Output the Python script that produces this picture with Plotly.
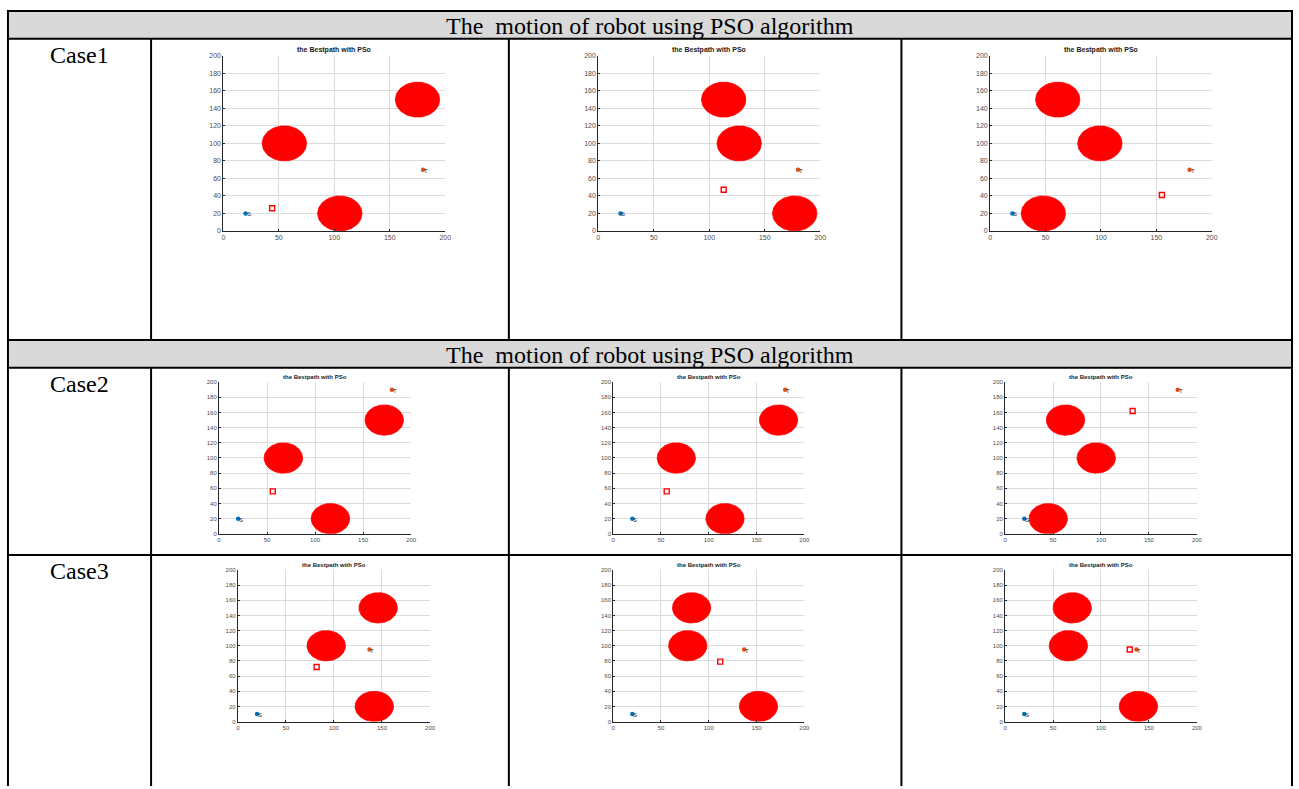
import numpy as np
import plotly.graph_objects as go

W, H = 1299, 789

case_labels = ["Case1", "Case2", "Case3"]
header_text = "The \u00a0motion of robot using PSO algorithm"
panel_title = "the Bestpath with PSo"
x_ticks = [0, 50, 100, 150, 200]
y_ticks = [0, 20, 40, 60, 80, 100, 120, 140, 160, 180, 200]

# obstacle centres (one list per panel, rows = cases), radius in map units
obs_x = [
    [[55, 105, 175], [113, 127, 177], [61, 99, 48]],
    [[67, 116, 172], [66, 117, 173], [63, 95, 45]],
    [[92, 146, 142], [82, 78, 152], [70, 66, 139]],
]
obs_y = [
    [[100, 20, 150], [150, 100, 20], [150, 100, 20]],
    [[100, 20, 150], [100, 20, 150], [150, 100, 20]],
    [[100, 150, 20], [150, 100, 20], [150, 100, 20]],
]
obs_r = 20

# start / target points per case
start_x = [20, 20, 20]
start_y = [20, 20, 10]
target_x = [180, 180, 137]
target_y = [70, 190, 95]

# robot position per panel
robot_x = [[44, 113, 155], [56, 56, 133], [82, 112, 130]]
robot_y = [[26, 47, 41], [56, 56, 162], [72, 79, 95]]

# ---- page layout (pixels) ----
row_y = [(52.3, 229.0), (381.5, 534.6), (571.0, 724.0)]
col_x = [
    [(222.7, 446.0), (600.0, 823.3), (994.3, 1217.3)],
    [(218.3, 411.7), (615.0, 807.3), (1009.3, 1202.3)],
    [(237.3, 430.7), (615.0, 807.3), (1009.3, 1202.3)],
]
tick_size = [7, 6, 6]


def px(x):
    return x / W


def py(y):
    return 1 - y / H


fig = go.Figure()
annotations = []
shapes = []
theta = np.linspace(0, 2 * np.pi, 90)

n = 0
for r in range(3):
    for c in range(3):
        n += 1
        xa = "x" if n == 1 else f"x{n}"
        ya = "y" if n == 1 else f"y{n}"
        # obstacles
        for cx, cy in zip(obs_x[r][c], obs_y[r][c]):
            fig.add_trace(go.Scatter(
                x=cx + obs_r * np.cos(theta), y=cy + obs_r * np.sin(theta),
                mode="lines", fill="toself", fillcolor="#ff0000",
                line=dict(color="#ff0000", width=0.8),
                xaxis=xa, yaxis=ya, hoverinfo="skip"))
        # start
        fig.add_trace(go.Scatter(
            x=[start_x[r]], y=[start_y[r]], mode="markers",
            marker=dict(symbol="circle", size=4.5, color="#0072BD"),
            xaxis=xa, yaxis=ya))
        # target
        fig.add_trace(go.Scatter(
            x=[target_x[r]], y=[target_y[r]], mode="markers",
            marker=dict(symbol="circle", size=4.5, color="#D95319"),
            xaxis=xa, yaxis=ya))
        # robot
        fig.add_trace(go.Scatter(
            x=[robot_x[r][c]], y=[robot_y[r][c]], mode="markers",
            marker=dict(symbol="square-open", size=5, color="#ff0000",
                        line=dict(width=1.4, color="#ff0000")),
            xaxis=xa, yaxis=ya))

        x0, x1 = col_x[r][c]
        y0, y1 = row_y[r]
        axcommon = dict(
            range=[0, 200], showgrid=True, gridcolor="#dcdcdc", gridwidth=1,
            zeroline=False, showline=True, linecolor="#262626", linewidth=1,
            ticks="inside", ticklen=2, tickcolor="#262626",
            tickfont=dict(family="Liberation Sans", size=tick_size[r], color="#4d4d4d"),
        )
        fig.layout[("xaxis" if n == 1 else f"xaxis{n}")] = dict(
            axcommon, domain=[px(x0), px(x1)], anchor=ya,
            tickvals=x_ticks)
        fig.layout[("yaxis" if n == 1 else f"yaxis{n}")] = dict(
            axcommon, domain=[py(y1), py(y0)], anchor=xa,
            tickvals=y_ticks)

        annotations.append(dict(
            xref=f"{xa} domain", yref=f"{ya} domain", x=0.5, y=1,
            xanchor="center", yanchor="bottom", yshift=0, showarrow=False,
            text=f"<b>{panel_title}</b>",
            font=dict(family="Liberation Sans", size=tick_size[r], color="#1a1a1a")))
        for lx, ly, lt in [(start_x[r], start_y[r], "S"), (target_x[r], target_y[r], "T")]:
            annotations.append(dict(
                xref=xa, yref=ya, x=lx, y=ly, text=lt, showarrow=False,
                xanchor="left", yanchor="middle", xshift=-1, yshift=-1,
                font=dict(family="Liberation Sans", size=6, color="#262626")))

# ---- table frame ----
LEFT, RIGHT, TOP, BOTTOM = 6, 1298, 7, 789
header_rows = [(7, 35), (339, 367)]
for (t, b) in header_rows:
    shapes.append(dict(type="rect", xref="paper", yref="paper",
                       x0=px(LEFT), x1=px(RIGHT), y0=py(b), y1=py(t),
                       fillcolor="#d9d9d9", line=dict(width=0), layer="below"))

line_style = dict(color="black", width=2)
for yline in [7, 35, 339, 367, 556]:
    shapes.append(dict(type="line", xref="paper", yref="paper",
                       x0=px(LEFT - 1), x1=px(RIGHT + 1), y0=py(yline), y1=py(yline),
                       line=line_style))
for xline in [LEFT, RIGHT]:
    shapes.append(dict(type="line", xref="paper", yref="paper",
                       x0=px(xline), x1=px(xline), y0=py(TOP), y1=py(BOTTOM),
                       line=line_style))
for xline in [150, 510, 905]:
    for (t, b) in [(35, 339), (367, BOTTOM)]:
        shapes.append(dict(type="line", xref="paper", yref="paper",
                           x0=px(xline), x1=px(xline), y0=py(t), y1=py(b),
                           line=line_style))

for (t, b) in header_rows:
    annotations.append(dict(
        xref="paper", yref="paper", x=px(652), y=py((t + b) / 2 + 1),
        xanchor="center", yanchor="middle", showarrow=False, text=header_text,
        font=dict(family="Liberation Serif", size=24, color="black")))

for lab, ycen in zip(case_labels, [51, 383, 572]):
    annotations.append(dict(
        xref="paper", yref="paper", x=px(78), y=py(ycen),
        xanchor="center", yanchor="middle", showarrow=False, text=lab,
        font=dict(family="Liberation Serif", size=24, color="black")))

fig.update_layout(
    width=W, height=H, margin=dict(l=0, r=0, t=0, b=0),
    paper_bgcolor="white", plot_bgcolor="white", showlegend=False,
    annotations=annotations, shapes=shapes,
)

fig.write_html("out.html")
